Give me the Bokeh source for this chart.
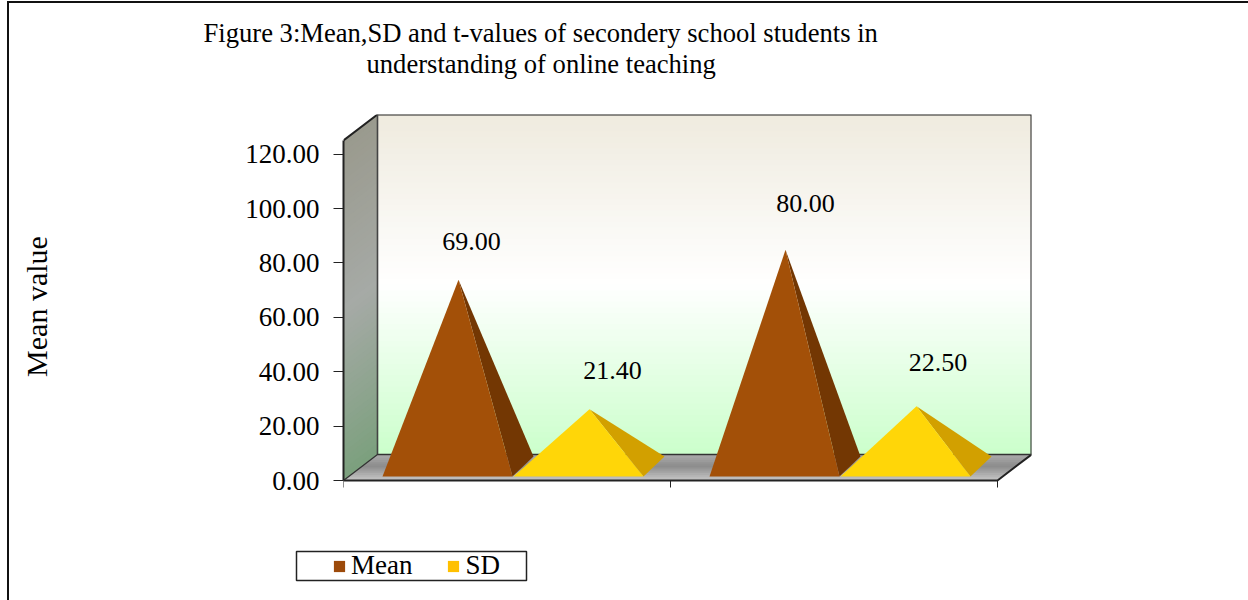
from bokeh.plotting import figure
from bokeh.embed import file_html
from bokeh.resources import INLINE
from bokeh.layouts import column
from bokeh.models import (Label, LinearAxis, FixedTicker, NumeralTickFormatter, Legend, LegendItem,
                          Range1d, InlineStyleSheet)

# ---- data ----
categories = ["Government", "Private"]
series_names = ["Mean", "SD"]
mean_values = [69.00, 80.00]
sd_values = [21.40, 22.50]
y_ticks = [0, 20, 40, 60, 80, 100, 120]
title_lines = ["Figure 3:Mean,SD and t-values of secondery school students in",
               "understanding of online teaching"]
y_title = "Mean value"
legend_colors = ["#9c4a0a", "#ffc000"]

# ---- layout: three stacked strips, title / chart / legend ----
CW = 1248
TOP_H, MID_H, LEG_H = 85, 460, 55
FX0, FX1, FY0, FY1 = 343, 1031, 114, 480
FRAME_EXTRA = 18     # frame runs below the zero line, so the axis title centres where it should
PX_PER_CAT = 327.0
PX_PER_VAL = 2.72
DX, DY = 34 / PX_PER_CAT, 26 / PX_PER_VAL
AX_MAX = 125
FONT = "Liberation Serif"


def strip(height, y0):
    f = figure(width=CW, height=height, output_backend="svg", toolbar_location=None,
               x_range=Range1d(0, CW), y_range=Range1d(y0 + height, y0),
               x_axis_location=None, y_axis_location=None, min_border=0, frame_align=False)
    f.grid.visible = False
    f.outline_line_color = None
    f.background_fill_color = "white"
    f.border_fill_color = "white"
    return f


LEFT_RULE = """
:host::before {content:""; position:absolute; left:7px; top:0; bottom:0; border-left:2px solid #111;
  pointer-events:none; z-index:5;}
"""

# title strip
t = strip(TOP_H, 0)
t.stylesheets = [InlineStyleSheet(css="""
:host::before {content:""; position:absolute; left:7px; top:1px; right:-20px; bottom:0;
  border-left:2px solid #111; border-top:2px solid #111; pointer-events:none; z-index:5;}
""")]
title_left = [203, 366]
title_mid = [32, 63]
for i, line in enumerate(title_lines):
    t.add_layout(Label(x=title_left[i], y=title_mid[i], text=line, text_font=FONT, text_font_size="26.6px",
                       text_color="#000000", text_align="left", text_baseline="middle"))

# chart
p = figure(width=CW, height=MID_H, output_backend="svg", toolbar_location=None,
           x_range=Range1d(0, (FX1 - FX0) / PX_PER_CAT),
           y_range=Range1d(-FRAME_EXTRA / PX_PER_VAL, (FY1 - FY0) / PX_PER_VAL),
           x_axis_location=None, y_axis_location=None, frame_align=False,
           min_border_left=FX0, min_border_right=CW - FX1, min_border_top=FY0 - TOP_H,
           min_border_bottom=TOP_H + MID_H - FY1 - FRAME_EXTRA)
p.grid.visible = False
p.outline_line_color = None
p.background_fill_color = "white"
p.border_fill_color = "white"
p.stylesheets = [InlineStyleSheet(css=LEFT_RULE)]


def mix(stops, s):
    for (t0, c0), (t1, c1) in zip(stops, stops[1:]):
        if s <= t1:
            f = (s - t0) / (t1 - t0)
            return "#%02x%02x%02x" % tuple(round(a + (b - a) * f) for a, b in zip(c0, c1))
    return "#%02x%02x%02x" % stops[-1][1]


wall_stops = [(0, (239, 235, 223)), (0.5, (255, 255, 255)), (1, (204, 255, 204))]
side_stops = [(0, (154, 154, 142)), (0.5, (166, 170, 166)), (1, (124, 160, 126))]
floor_stops = [(0, (170, 170, 170)), (0.45, (140, 140, 140)), (1, (196, 196, 196))]

N = 60
x0, x1 = 0.0, 2.0
wx, wy, wc, sx, sy, sc = [], [], [], [], [], []
for i in range(N):
    a = AX_MAX * (1 - i / N)
    b = AX_MAX * (1 - (i + 2) / N) if i < N - 1 else 0
    wx.append([x0 + DX, x1 + DX, x1 + DX, x0 + DX])
    wy.append([a + DY, a + DY, b + DY, b + DY])
    wc.append(mix(wall_stops, i / (N - 1)))
    sx.append([x0, x0 + DX, x0 + DX, x0])
    sy.append([a, a + DY, b + DY, b])
    sc.append(mix(side_stops, i / (N - 1)))
p.patches(wx, wy, fill_color=wc, line_color=None)
p.patches(sx, sy, fill_color=sc, line_color=None)

fx, fy, fc = [], [], []
M = 14
for i in range(M):
    a = 1 - i / M
    b = max(1 - (i + 2) / M, 0)
    fx.append([x0 + DX * a, x1 + DX * a, x1 + DX * b, x0 + DX * b])
    fy.append([DY * a, DY * a, DY * b, DY * b])
    fc.append(mix(floor_stops, i / (M - 1)))
p.patches(fx, fy, fill_color=fc, line_color=None)

edge = dict(line_color="#222222", line_width=2)
p.line([x0, x0 + DX, x1 + DX, x1 + DX, x1, x0], [AX_MAX, AX_MAX + DY, AX_MAX + DY, DY, 0, 0], **edge)
p.line([x0 + DX, x0 + DX], [DY, AX_MAX + DY], line_color="#444444", line_width=1.6)
p.line([x0, x0 + DX, x1 + DX], [0, DY, DY], line_color="#333333", line_width=1.3)

HALF = 65 / PX_PER_CAT
APEX_DX = 11 / PX_PER_CAT
BACK_DX = 21 / PX_PER_CAT
BASE_FRONT, BASE_BACK, APEX_LIFT = 1.5, 8.8, 4.8
offsets = {"Mean": -59.5 / PX_PER_CAT, "SD": 71.5 / PX_PER_CAT}
styles = {"Mean": ("#a35008", "#733703"), "SD": ("#ffd608", "#d2a000")}
series = {"Mean": mean_values, "SD": sd_values}
label_lift = {"Mean": [18.9, 21.8], "SD": [19.0, 20.9]}
label_dx = {"Mean": [24, 31], "SD": [34, 32.5]}

for c in range(len(categories)):
    for name in series_names:
        v = series[name][c]
        cx = c + 0.5 + offsets[name]
        ax, ay = cx + APEX_DX, v + APEX_LIFT
        lx, rx = cx - HALF, cx + HALF
        face, side = styles[name]
        p.patch([ax, rx, rx + BACK_DX], [ay, BASE_FRONT, BASE_BACK], fill_color=side, line_color=None)
        p.patch([ax, lx, rx], [ay, BASE_FRONT, BASE_FRONT], fill_color=face, line_color=None)
        p.add_layout(Label(x=cx + label_dx[name][c] / PX_PER_CAT, y=v + label_lift[name][c], text=f"{v:.2f}",
                           text_font=FONT, text_font_size="26px", text_color="#000000",
                           text_align="center", text_baseline="middle"))

yax = LinearAxis(ticker=FixedTicker(ticks=y_ticks), formatter=NumeralTickFormatter(format="0.00"),
                 bounds=(0, AX_MAX), major_tick_in=0, major_tick_out=10, minor_tick_line_color=None,
                 axis_line_color="#222222", axis_line_width=2, major_tick_line_color="#222222",
                 major_label_text_font=FONT, major_label_text_font_size="27px", major_label_text_color="#000000",
                 major_label_standoff=14,
                 axis_label=y_title, axis_label_standoff=189, axis_label_text_font=FONT,
                 axis_label_text_font_size="30px", axis_label_text_font_style="normal",
                 axis_label_text_color="#000000")
p.add_layout(yax, "left")

xax = LinearAxis(ticker=FixedTicker(ticks=[0.5, 1.5], minor_ticks=[0, 1, 2]), bounds=(0, 2), fixed_location=0,
                 major_label_overrides={0.5: categories[0], 1.5: categories[1]},
                 major_tick_line_color=None, major_tick_in=0, major_tick_out=0,
                 minor_tick_in=0, minor_tick_out=7, minor_tick_line_color="#222222",
                 axis_line_color=None, major_label_standoff=9,
                 major_label_text_font=FONT, major_label_text_font_size="26.5px", major_label_text_color="#000000")
p.add_layout(xax, "below")

# legend strip
LY0, LY1 = TOP_H + MID_H, TOP_H + MID_H + LEG_H
q = strip(LEG_H, LY0)
q.stylesheets = [InlineStyleSheet(css=LEFT_RULE)]
q.quad(left=[296], right=[526], top=[551], bottom=[580], fill_color="white", line_color="#222222", line_width=1.5)
# swatch sources for the legend sit outside the visible range
dummy = [q.patch([-60, -50, -50], [LY0, LY0, LY1], fill_color=c, line_color=None) for c in legend_colors]
legend = Legend(items=[LegendItem(label=n, renderers=[r]) for n, r in zip(series_names, dummy)],
                orientation="horizontal", location=(332, 19),
                border_line_color=None, background_fill_alpha=0,
                label_text_font=FONT, label_text_font_size="27px", label_text_color="#000000",
                glyph_width=14, glyph_height=14, label_standoff=5, spacing=34,
                margin=0, padding=0)
q.add_layout(legend, "center")

open("out.html", "w").write(file_html(column(t, p, q, spacing=0), INLINE))
